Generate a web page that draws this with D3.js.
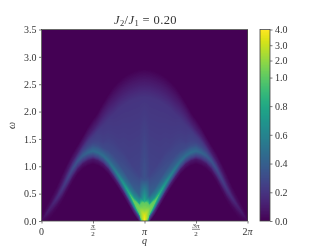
<!DOCTYPE html>
<html>
<head>
<meta charset="utf-8">
<script src="https://cdn.jsdelivr.net/npm/d3@7"></script>
<style>
  html, body { margin: 0; background: #fff; }
  #chart { position: relative; width: 332px; height: 249px; overflow: hidden; }
  canvas, svg { position: absolute; left: 0; top: 0; }
  text { font-family: "Liberation Serif", serif; fill: #333; }
</style>
</head>
<body>
<div id="chart"></div>
<script>
// columns are q steps of pi/20 from 0 to pi, the right half is the mirror of these
const qStep = Math.PI / 20;
// each column is read at 10 key points: start of the rise, edge, peak, shoulder, top of the dome, end
const keyOmega = [
  [-.14,-.05,0,.01,.02,.03,.04,.05,.06,.10],
  [-.05,.04,.09,.14,.16,.17,.18,.19,.20,.29],
  [.07,.16,.21,.28,.30,.31,.32,.34,.36,.47],
  [.19,.28,.33,.41,.44,.46,.47,.49,.52,.65],
  [.34,.43,.48,.57,.60,.62,.64,.67,.72,.86],
  [.52,.61,.66,.76,.79,.81,.83,.86,.92,1.06],
  [.70,.79,.84,.94,.97,.99,1.01,1.04,1.10,1.24],
  [.85,.94,.99,1.09,1.12,1.14,1.16,1.19,1.25,1.39],
  [.95,1.04,1.09,1.19,1.23,1.26,1.29,1.33,1.40,1.55],
  [1.01,1.10,1.15,1.25,1.30,1.34,1.38,1.45,1.55,1.72],
  [1.04,1.13,1.18,1.28,1.34,1.39,1.44,1.55,1.67,1.86],
  [1.01,1.10,1.15,1.25,1.32,1.38,1.45,1.65,1.80,2.00],
  [.95,1.04,1.09,1.19,1.26,1.33,1.45,1.75,1.95,2.17],
  [.85,.94,.99,1.09,1.17,1.30,1.55,1.85,2.08,2.32],
  [.72,.81,.86,.96,1.05,1.20,1.50,1.95,2.20,2.46],
  [.58,.67,.72,.82,.91,1.07,1.40,2.05,2.30,2.56],
  [.43,.52,.57,.67,.77,.92,1.27,2.12,2.38,2.64],
  [.27,.36,.41,.51,.61,.76,1.12,2.18,2.44,2.70],
  [.11,.20,.25,.35,.45,.60,.97,2.22,2.48,2.74],
  [-.02,.07,.12,.22,.32,.47,.85,2.25,2.51,2.77],
  [-.14,-.05,0,.10,.20,.35,.75,2.26,2.52,2.78]
];
const keyValue = [
  [0,0,.02,.02,.02,.01,.01,.01,.01,0],
  [0,.02,.05,.09,.08,.07,.06,.05,.04,0],
  [0,.03,.07,.12,.11,.10,.09,.07,.05,0],
  [0,.03,.08,.16,.15,.13,.12,.10,.06,0],
  [0,.04,.10,.20,.19,.17,.15,.12,.07,0],
  [0,.05,.13,.25,.23,.21,.19,.15,.08,0],
  [0,.06,.16,.30,.28,.25,.22,.18,.09,0],
  [0,.07,.18,.35,.32,.28,.25,.20,.10,0],
  [0,.07,.20,.39,.35,.30,.26,.21,.11,0],
  [0,.08,.21,.43,.37,.31,.27,.22,.11,0],
  [0,.08,.23,.46,.39,.32,.27,.22,.11,0],
  [0,.08,.24,.47,.39,.31,.27,.22,.11,0],
  [0,.09,.25,.48,.39,.30,.25,.21,.11,0],
  [0,.09,.26,.50,.40,.29,.24,.21,.11,0],
  [0,.10,.28,.55,.41,.30,.24,.20,.10,0],
  [0,.11,.31,.62,.44,.31,.24,.20,.10,0],
  [0,.12,.37,.72,.48,.33,.25,.20,.10,0],
  [0,.15,.45,.86,.54,.35,.25,.20,.10,0],
  [0,.20,.60,1.10,.62,.38,.26,.20,.10,0],
  [0,.30,.90,1.60,.78,.42,.27,.20,.10,0],
  [1.5,2.8,4,3.4,1.9,.85,.34,.20,.10,0]
];
const yTicks = [0, 0.5, 1, 1.5, 2, 2.5, 3, 3.5];
const barTicks = [0, 0.2, 0.4, 0.6, 0.8, 1, 2, 3, 4];
// where each bar tick sits along the colour bar
const barStops = [0, 0.15, 0.30, 0.45, 0.60, 0.749, 0.838, 0.918, 1];

const W = 332, H = 249;
const x = d3.scaleLinear().domain([0, 2 * Math.PI]).range([41.5, 247.5]);
const y = d3.scaleLinear().domain([0, 3.5]).range([221, 29.5]);
const barY = d3.scaleLinear().domain(barTicks).range(barStops.map((s) => 221 - s * 191.5));
const pos = d3.scaleLinear().domain(barTicks).range(barStops).clamp(true);
const color = (v) => d3.interpolateViridis(pos(v));

const chart = d3.select("#chart");
const canvas = chart.append("canvas").attr("width", W).attr("height", H).node();
const ctx = canvas.getContext("2d");

// shade between the read columns key by key, so the band stays smooth
const nQ = keyOmega.length - 1;
for (let px = 42; px < 248; px++) {
  let c = x.invert(px + 0.5) / qStep;
  if (c > nQ) c = 2 * nQ - c;
  const i = Math.min(Math.floor(c), nQ - 1), f = c - i;
  const profile = d3.scaleLinear()
    .domain(keyOmega[i].map((w, k) => w * (1 - f) + keyOmega[i + 1][k] * f))
    .range(keyValue[i].map((v, k) => v * (1 - f) + keyValue[i + 1][k] * f))
    .clamp(true);
  for (let py = 30; py < 221; py++) {
    ctx.fillStyle = color(profile(y.invert(py + 0.5)));
    ctx.fillRect(px, py, 1, 1);
  }
}
// colour bar
for (let py = 30; py < 221; py++) {
  ctx.fillStyle = d3.interpolateViridis((221 - py - 0.5) / 191.5);
  ctx.fillRect(260, py, 10, 1);
}

const svg = chart.append("svg").attr("width", W).attr("height", H);

const frame = "#444";
function styleAxis(g) {
  g.select(".domain").remove();
  g.selectAll("line").attr("stroke", frame).attr("stroke-width", 0.7);
  g.selectAll("text").attr("font-size", 10).attr("fill", "#333");
}

svg.append("rect").attr("x", 41.5).attr("y", 29.5).attr("width", 206).attr("height", 191.5)
  .attr("fill", "none").attr("stroke", frame).attr("stroke-width", 0.8);
svg.append("rect").attr("x", 260).attr("y", 29.5).attr("width", 10).attr("height", 191.5)
  .attr("fill", "none").attr("stroke", frame).attr("stroke-width", 0.8);

svg.append("g").attr("transform", "translate(41.5,0)")
  .call(d3.axisLeft(y).tickValues(yTicks).tickSize(2.5).tickPadding(2.5).tickFormat(d3.format(".1f")))
  .call(styleAxis);

const xTicks = [0, Math.PI / 2, Math.PI, 3 * Math.PI / 2, 2 * Math.PI];
svg.append("g").attr("transform", "translate(0,221)")
  .call(d3.axisBottom(x).tickValues(xTicks).tickSize(2.5).tickFormat(""))
  .call(styleAxis);

function plain(q, label, italicPart) {
  const t = svg.append("text").attr("x", x(q)).attr("y", 234.5).attr("text-anchor", "middle").attr("font-size", 10);
  t.text(label);
  if (italicPart) t.append("tspan").attr("font-style", "italic").text(italicPart);
}
function frac(q, top) {
  const half = top.length > 1 ? 4 : 2.5;
  svg.append("text").attr("x", x(q)).attr("y", 228).attr("text-anchor", "middle").attr("font-size", 7)
    .attr("font-style", "italic").text(top);
  svg.append("line").attr("x1", x(q) - half).attr("x2", x(q) + half)
    .attr("y1", 229.3).attr("y2", 229.3).attr("stroke", "#333").attr("stroke-width", 0.6);
  svg.append("text").attr("x", x(q)).attr("y", 235.5).attr("text-anchor", "middle").attr("font-size", 7).text("2");
}
plain(0, "0");
frac(Math.PI / 2, "π");
plain(Math.PI, "", "π");
frac(3 * Math.PI / 2, "3π");
plain(2 * Math.PI, "2", "π");

svg.append("g").attr("transform", "translate(270,0)")
  .call(d3.axisRight(barY).tickValues(barTicks).tickSize(2.5).tickPadding(2.5).tickFormat(d3.format(".1f")))
  .call(styleAxis);

svg.append("text").attr("x", 144.5).attr("y", 243.5).attr("text-anchor", "middle")
  .attr("font-size", 10).attr("font-style", "italic").text("q");
svg.append("text").attr("transform", "translate(15,125.5) rotate(-90)").attr("text-anchor", "middle")
  .attr("font-size", 10).attr("font-style", "italic").text("ω");

const title = svg.append("text").attr("x", 145.5).attr("y", 23.5).attr("text-anchor", "middle")
  .attr("font-size", 12.5).attr("letter-spacing", 0.4);
title.append("tspan").attr("font-style", "italic").text("J");
title.append("tspan").attr("font-size", 8.5).attr("dy", 2).text("2");
title.append("tspan").attr("dy", -2).text("/");
title.append("tspan").attr("font-style", "italic").text("J");
title.append("tspan").attr("font-size", 8.5).attr("dy", 2).text("1");
title.append("tspan").attr("dy", -2).text(" = 0.20");
</script>
</body>
</html>
